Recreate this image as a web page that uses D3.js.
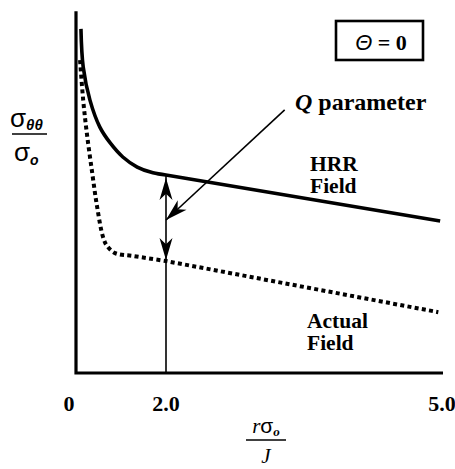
<!DOCTYPE html>
<html>
<head>
<meta charset="utf-8">
<script src="https://cdn.jsdelivr.net/npm/d3@7"></script>
<style>
  html, body { margin: 0; padding: 0; background: #fff; }
  svg { display: block; }
  .serif { font-family: "Liberation Serif", "Times New Roman", serif; font-weight: bold; fill: #000; }
  .sans { font-family: "Liberation Sans", Arial, sans-serif; fill: #000; }
</style>
</head>
<body>
<svg id="chart" width="455" height="469"></svg>
<script>
// x ticks along the normalised distance axis r*sigma_o/J
const xTicks = [0, 2, 5];
const xTickLabels = ["0", "2.0", "5.0"];

// HRR (small-strain) stress distribution, sigma_theta_theta / sigma_o
const hrrX = [0.11, 0.16, 0.31, 0.53, 0.76, 1.04, 1.36, 1.71, 2.0, 4.98];
const hrrY = [9.56, 8.5, 7.58, 6.83, 6.39, 6.0, 5.72, 5.56, 5.5, 4.22];

// Actual (finite-strain) field
const actX = [0.09, 0.16, 0.24, 0.36, 0.47, 0.6, 0.69, 0.87, 1.27, 2.0, 4.96];
const actY = [8.69, 7.58, 6.67, 5.56, 4.61, 3.78, 3.53, 3.33, 3.25, 3.11, 1.69];

// Q is read at r*sigma_o/J = 2
const qX = 2;
const qLeaderFrom = [3.29, 7.31];
const qLeaderTo = [2.0, 4.25];

const svg = d3.select("#chart");

const x = d3.scaleLinear().domain([0, 2, 5]).range([76, 166, 442]);
const y = d3.scaleLinear().domain([0, 10]).range([373, 13]);

// axes: a heavy L frame
svg.append("path")
  .attr("d", `M${x(0)},${y(10.05)} L${x(0)},${y(0)} L${x(5) + 1},${y(0)}`)
  .attr("fill", "none").attr("stroke", "#000").attr("stroke-width", 3.2);

// tick labels
svg.selectAll("text.tick").data(xTicks).enter().append("text")
  .attr("class", "tick serif")
  .attr("x", d => x(d) + (d === 0 ? -7 : 0))
  .attr("y", 411)
  .attr("text-anchor", "middle")
  .attr("font-size", 22)
  .text((d, i) => xTickLabels[i]);

// curved near-tip part is smooth, the far part straight
const smooth = d3.line().x(d => x(d[0])).y(d => y(d[1])).curve(d3.curveCatmullRom.alpha(0.5));
function fieldPath(xs, ys, bendEnd) {
  const pts = d3.zip(xs, ys);
  const bend = pts.slice(0, bendEnd + 1);
  const rest = pts.slice(bendEnd + 1);
  return smooth(bend) + rest.map(p => `L${x(p[0])},${y(p[1])}`).join("");
}

// HRR curve
svg.append("path")
  .attr("d", fieldPath(hrrX, hrrY, hrrX.indexOf(qX)))
  .attr("fill", "none").attr("stroke", "#000").attr("stroke-width", 3.6);

// Actual field, dotted
svg.append("path")
  .attr("d", fieldPath(actX, actY, actX.indexOf(qX)))
  .attr("fill", "none").attr("stroke", "#000").attr("stroke-width", 4)
  .attr("stroke-dasharray", "4,3.3");

// vertical marker at r*sigma_o/J = 2
const hrrAtQ = hrrY[hrrX.indexOf(qX)];
const actAtQ = actY[actX.indexOf(qX)];
svg.append("line")
  .attr("x1", x(qX)).attr("x2", x(qX))
  .attr("y1", y(hrrAtQ)).attr("y2", y(0))
  .attr("stroke", "#000").attr("stroke-width", 1.6);

// arrowhead polygon with tip at (tx,ty), pointing along angle ang
function arrowHead(tx, ty, ang, len, half) {
  const c = Math.cos(ang), s = Math.sin(ang);
  const bx = tx - c * len, by = ty - s * len;
  const nx = tx - c * len * 0.72, ny = ty - s * len * 0.72;
  return `M${tx},${ty} L${bx - s * half},${by + c * half} L${nx},${ny} L${bx + s * half},${by - c * half} Z`;
}

// double arrow spanning the gap between the two fields
svg.append("path")
  .attr("d", arrowHead(x(qX), y(hrrAtQ) + 3, -Math.PI / 2, 22, 6.5))
  .attr("fill", "#000");
svg.append("path")
  .attr("d", arrowHead(x(qX), y(actAtQ) - 1, Math.PI / 2, 22, 6.5))
  .attr("fill", "#000");

// Q leader
const lx1 = x(qLeaderFrom[0]), ly1 = y(qLeaderFrom[1]);
const lx2 = x(qLeaderTo[0]), ly2 = y(qLeaderTo[1]);
svg.append("line")
  .attr("x1", lx1).attr("y1", ly1).attr("x2", lx2).attr("y2", ly2)
  .attr("stroke", "#000").attr("stroke-width", 1.6);
svg.append("path")
  .attr("d", arrowHead(lx2, ly2, Math.atan2(ly2 - ly1, lx2 - lx1), 22, 6.5))
  .attr("fill", "#000");

// labels
const qLabel = svg.append("text").attr("class", "serif").attr("x", 295).attr("y", 110).attr("font-size", 24);
qLabel.append("tspan").attr("font-style", "italic").text("Q");
qLabel.append("tspan").text(" parameter");

function twoLine(tx, ty, lines) {
  lines.forEach((s, i) => svg.append("text").attr("class", "serif").attr("font-size", 21.5)
    .attr("x", tx).attr("y", ty + i * 22).text(s));
}
twoLine(310, 171, ["HRR", "Field"]);
twoLine(307, 328, ["Actual", "Field"]);

// theta box
svg.append("rect").attr("x", 336).attr("y", 21).attr("width", 87).attr("height", 39)
  .attr("fill", "none").attr("stroke", "#000").attr("stroke-width", 2.6);
const th = svg.append("text").attr("x", 381).attr("y", 50).attr("text-anchor", "middle").attr("font-size", 22);
th.append("tspan").attr("class", "sans").attr("font-style", "italic").text("Θ");
th.append("tspan").attr("class", "serif").text(" = 0");

// y-axis label: sigma_theta_theta / sigma_o
const yl = svg.append("g");
yl.append("text").attr("class", "sans").attr("x", 10).attr("y", 127).attr("font-size", 26).text("σ")
  .append("tspan").attr("font-size", 15).attr("font-style", "italic").attr("font-weight", "bold").attr("dy", 3).text("θθ");
yl.append("line").attr("x1", 12).attr("x2", 47).attr("y1", 134).attr("y2", 134)
  .attr("stroke", "#000").attr("stroke-width", 1.4);
yl.append("text").attr("class", "sans").attr("x", 14).attr("y", 161).attr("font-size", 26).text("σ")
  .append("tspan").attr("font-size", 14).attr("font-style", "italic").attr("font-weight", "bold").attr("dy", 4).text("o");

// x-axis label: r*sigma_o / J
const xl = svg.append("g");
const num = xl.append("text").attr("x", 266).attr("y", 433).attr("text-anchor", "middle")
  .attr("font-family", "Liberation Serif, serif").attr("font-size", 21);
num.append("tspan").attr("font-style", "italic").text("r");
num.append("tspan").attr("font-family", "Liberation Sans, Arial, sans-serif").text("σ");
num.append("tspan").attr("font-size", 13).attr("font-style", "italic").attr("font-weight", "bold").attr("dy", 3).text("o");
xl.append("line").attr("x1", 246).attr("x2", 286).attr("y1", 440).attr("y2", 440)
  .attr("stroke", "#000").attr("stroke-width", 1.4);
xl.append("text").attr("x", 266).attr("y", 463).attr("text-anchor", "middle")
  .attr("font-family", "Liberation Serif, serif").attr("font-style", "italic").attr("font-size", 21).text("J");
</script>
</body>
</html>
